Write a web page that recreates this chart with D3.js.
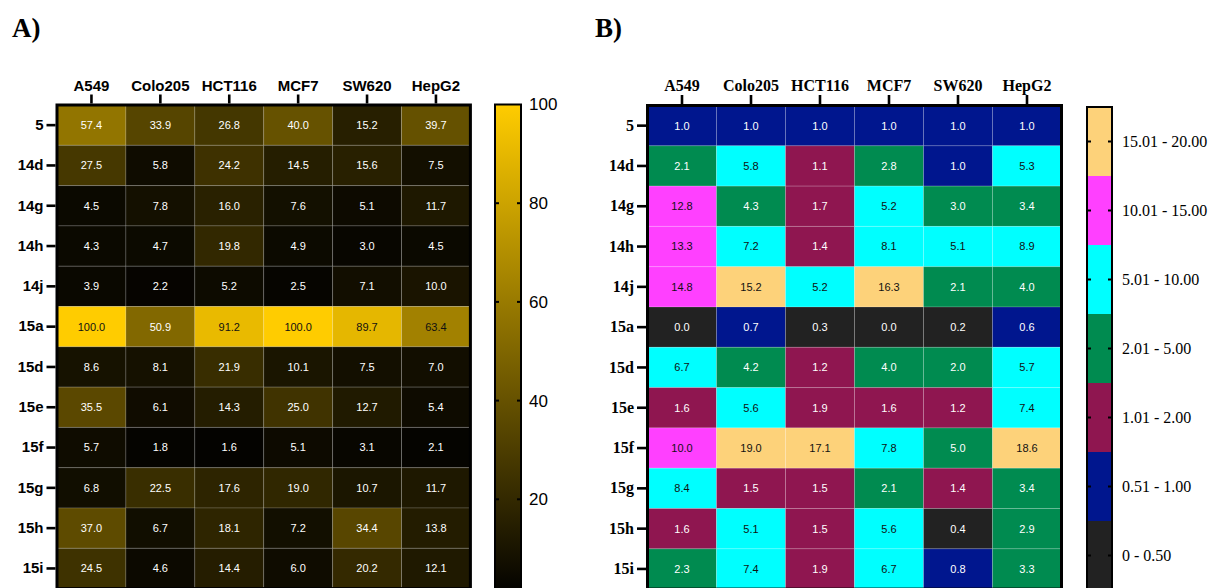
<!DOCTYPE html>
<html>
<head>
<meta charset="utf-8">
<script src="https://cdn.jsdelivr.net/npm/d3@7"></script>
<style>
  body { margin: 0; background: #fff; }
  svg { display: block; }
</style>
</head>
<body>
<svg id="chart" width="1212" height="588"></svg>
<script>
// cell lines (columns) and compounds (rows)
const cellLines = ["A549", "Colo205", "HCT116", "MCF7", "SW620", "HepG2"];
const compounds = ["5", "14d", "14g", "14h", "14j", "15a", "15d", "15e", "15f", "15g", "15h", "15i"];

// panel A: relative values (0 - 100)
const valuesA = [
  [57.4, 33.9, 26.8, 40.0, 15.2, 39.7],
  [27.5, 5.8, 24.2, 14.5, 15.6, 7.5],
  [4.5, 7.8, 16.0, 7.6, 5.1, 11.7],
  [4.3, 4.7, 19.8, 4.9, 3.0, 4.5],
  [3.9, 2.2, 5.2, 2.5, 7.1, 10.0],
  [100.0, 50.9, 91.2, 100.0, 89.7, 63.4],
  [8.6, 8.1, 21.9, 10.1, 7.5, 7.0],
  [35.5, 6.1, 14.3, 25.0, 12.7, 5.4],
  [5.7, 1.8, 1.6, 5.1, 3.1, 2.1],
  [6.8, 22.5, 17.6, 19.0, 10.7, 11.7],
  [37.0, 6.7, 18.1, 7.2, 34.4, 13.8],
  [24.5, 4.6, 14.4, 6.0, 20.2, 12.1]
];
const ticksA = [20, 40, 60, 80, 100];

// panel B: fold values (shown rounded to one decimal)
const valuesB = [
  [1.0, 1.0, 1.0, 1.0, 1.0, 1.0],
  [2.1, 5.8, 1.1, 2.8, 1.0, 5.3],
  [12.8, 4.3, 1.7, 5.2, 3.0, 3.4],
  [13.3, 7.2, 1.4, 8.1, 5.1, 8.9],
  [14.8, 15.2, 5.2, 16.3, 2.1, 4.0],
  [0.0, 0.7, 0.3, 0.0, 0.2, 0.6],
  [6.7, 4.2, 1.2, 4.0, 2.03, 5.7],
  [1.6, 5.6, 1.9, 1.6, 1.2, 7.4],
  [10.04, 19.0, 17.1, 7.8, 4.98, 18.6],
  [8.4, 1.5, 1.5, 2.1, 1.4, 3.4],
  [1.6, 5.1, 1.5, 5.6, 0.4, 2.9],
  [2.3, 7.4, 1.9, 6.7, 0.8, 3.3]
];
// legend bins, low to high
const binLabels = ["0 - 0.50", "0.51 - 1.00", "1.01 - 2.00", "2.01 - 5.00", "5.01 - 10.00", "10.01 - 15.00", "15.01 - 20.00"];
const binLower = [0.51, 1.01, 2.01, 5.01, 10.01, 15.01];
const binColors = ["#222222", "#00168e", "#8f1650", "#008b50", "#00ffff", "#ff40ff", "#fdd27a"];

const svg = d3.select("#chart");
const fmt = d3.format(".1f");

const rowH = 40.3;

function drawHeatmap(g, opt){
  const x = d3.scaleBand().domain(cellLines).range([opt.left, opt.left + 6 * opt.colW]);
  const y = d3.scaleBand().domain(compounds).range([opt.top, opt.top + compounds.length * rowH]);

  const cells = [];
  opt.values.forEach((row, i) => {
    row.forEach((v, j) => cells.push({ r: compounds[i], c: cellLines[j], v: v }));
  });

  const cell = g.selectAll("g.cell").data(cells).enter().append("g").attr("class", "cell");
  cell.append("rect")
    .attr("x", d => x(d.c))
    .attr("y", d => y(d.r))
    .attr("width", x.bandwidth())
    .attr("height", y.bandwidth())
    .attr("fill", d => opt.color(d.v))
    .attr("stroke", "rgba(255,255,255,0.16)")
    .attr("stroke-width", 1);
  cell.append("text")
    .attr("x", d => x(d.c) + x.bandwidth() / 2)
    .attr("y", d => y(d.r) + y.bandwidth() / 2)
    .attr("dy", "0.35em")
    .attr("text-anchor", "middle")
    .style("font-family", "'Liberation Sans', Arial, sans-serif")
    .style("font-size", "11px")
    .attr("fill", d => opt.textColor(d))
    .text(d => fmt(d.v));

  // frame
  g.append("rect")
    .attr("x", opt.left).attr("y", opt.top)
    .attr("width", 6 * opt.colW).attr("height", compounds.length * rowH)
    .attr("fill", "none").attr("stroke", "#000").attr("stroke-width", 3);

  const top = g.append("g").attr("transform", `translate(0,${opt.top - 1.5})`)
    .call(d3.axisTop(x).tickSize(9).tickPadding(4));
  const left = g.append("g").attr("transform", `translate(${opt.left - 1.5},0)`)
    .call(d3.axisLeft(y).tickSize(9).tickPadding(3));
  [top, left].forEach(a => {
    a.select(".domain").remove();
    a.selectAll(".tick line").attr("stroke", "#000").attr("stroke-width", 2.6);
    a.selectAll(".tick text")
      .attr("fill", "#000")
      .style("font-family", opt.font)
      .style("font-size", opt.fontSize)
      .style("font-weight", "bold");
  });
}

// ---- Panel A ----
const gA = svg.append("g");
const colorA = d3.scaleLinear().domain([0, 100]).range(["#000000", "#ffcc00"]);
drawHeatmap(gA, {
  left: 57, top: 105, colW: 68.9,
  values: valuesA,
  color: colorA,
  textColor: d => d.v > 60 ? "#111" : "#fff",
  font: "'Liberation Sans', Arial, sans-serif",
  fontSize: "15px"
});

// gradient bar A
const barA = { x: 495, w: 26 };
const yA = d3.scaleLinear().domain([0, 100]).range([598, 104.5]);
const grad = svg.append("defs").append("linearGradient")
  .attr("id", "gradA").attr("x1", 0).attr("y1", 1).attr("x2", 0).attr("y2", 0);
grad.selectAll("stop").data([0, 100]).enter().append("stop")
  .attr("offset", d => d / 100)
  .attr("stop-color", d => colorA(d));
gA.append("rect")
  .attr("x", barA.x).attr("y", yA(100))
  .attr("width", barA.w).attr("height", yA(0) - yA(100))
  .attr("fill", "url(#gradA)")
  .attr("stroke", "#000").attr("stroke-width", 2);
ticksA.filter(t => t < 100).forEach(t => {
  gA.append("line").attr("x1", barA.x).attr("x2", barA.x + 4)
    .attr("y1", yA(t)).attr("y2", yA(t)).attr("stroke", "#000").attr("stroke-width", 2);
  gA.append("line").attr("x1", barA.x + barA.w - 4).attr("x2", barA.x + barA.w)
    .attr("y1", yA(t)).attr("y2", yA(t)).attr("stroke", "#000").attr("stroke-width", 2);
});
gA.selectAll("text.cbA").data(ticksA).enter().append("text")
  .attr("class", "cbA")
  .attr("x", 529).attr("y", d => yA(d)).attr("dy", "0.35em")
  .style("font-family", "'Liberation Sans', Arial, sans-serif")
  .style("font-size", "17px")
  .text(d => d);

// ---- Panel B ----
const gB = svg.append("g");
const colorB = d3.scaleThreshold().domain(binLower).range(binColors);
drawHeatmap(gB, {
  left: 647.5, top: 105.5, colW: 69,
  values: valuesB,
  color: colorB,
  textColor: d => d3.lab(colorB(d.v)).l > 56 ? "#111" : "#fff",
  font: "'Liberation Serif', 'Times New Roman', serif",
  fontSize: "16px"
});

// discrete legend B (top = highest bin)
const yB = d3.scaleBand().domain(binLabels.slice().reverse()).range([107, 107 + 7 * 69]);
const barB = { x: 1087, w: 25 };
gB.selectAll("rect.bin").data(binLabels).enter().append("rect")
  .attr("class", "bin")
  .attr("x", barB.x).attr("y", d => yB(d))
  .attr("width", barB.w).attr("height", yB.bandwidth())
  .attr("fill", (d, i) => binColors[i]);
gB.append("rect")
  .attr("x", barB.x).attr("y", 107)
  .attr("width", barB.w).attr("height", 7 * 69)
  .attr("fill", "none").attr("stroke", "#000").attr("stroke-width", 2);
binLabels.forEach(l => {
  const cy = yB(l) + yB.bandwidth() / 2;
  gB.append("line").attr("x1", barB.x).attr("x2", barB.x + 4)
    .attr("y1", cy).attr("y2", cy).attr("stroke", "#000").attr("stroke-width", 2);
  gB.append("line").attr("x1", barB.x + barB.w - 4).attr("x2", barB.x + barB.w)
    .attr("y1", cy).attr("y2", cy).attr("stroke", "#000").attr("stroke-width", 2);
  gB.append("text")
    .attr("x", 1122).attr("y", cy).attr("dy", "0.35em")
    .style("font-family", "'Liberation Serif', 'Times New Roman', serif")
    .style("font-size", "16px")
    .text(l);
});

// panel letters
svg.selectAll("text.panel").data([["A)", 12], ["B)", 595]]).enter().append("text")
  .attr("class", "panel")
  .attr("x", d => d[1]).attr("y", 37)
  .style("font-family", "'Liberation Serif', 'Times New Roman', serif")
  .style("font-size", "27px")
  .style("font-weight", "bold")
  .text(d => d[0]);
</script>
</body>
</html>
